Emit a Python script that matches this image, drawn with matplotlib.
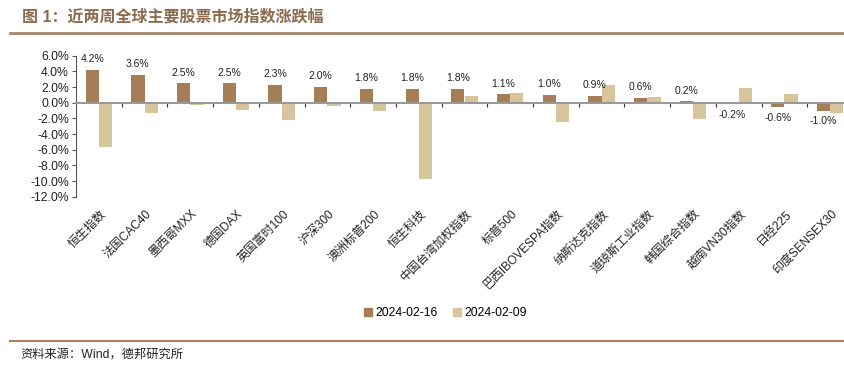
import matplotlib
matplotlib.use("Agg")
import matplotlib.pyplot as plt
import numpy as np
from matplotlib.lines import Line2D
from matplotlib.patches import Patch

plt.rcParams['font.family'] = ['Liberation Sans', 'Noto Sans CJK SC', 'DejaVu Sans']

categories = ["恒生指数", "法国CAC40", "墨西哥MXX", "德国DAX", "英国富时100", "沪深300",
              "澳洲标普200", "恒生科技", "中国台湾加权指数", "标普500", "巴西IBOVESPA指数",
              "纳斯达克指数", "道琼斯工业指数", "韩国综合指数", "越南VN30指数", "日经225",
              "印度SENSEX30"]
series_names = ["2024-02-16", "2024-02-09"]
week_0216 = [4.2, 3.6, 2.5, 2.5, 2.3, 2.0, 1.8, 1.8, 1.8, 1.1, 1.0, 0.9, 0.6, 0.2, -0.2, -0.6, -1.0]
week_0209 = [-5.7, -1.3, -0.3, -0.9, -2.2, -0.4, -1.0, -9.8, 0.9, 1.2, -2.5, 2.3, 0.7, -2.1, 1.9, 1.1, -1.3]
yticks = [6, 4, 2, 0, -2, -4, -6, -8, -10, -12]

c1 = "#A57E58"
c2 = "#D7C59B"
line_c = "#A68466"

W, H = 845, 373
fig = plt.figure(figsize=(W / 100, H / 100), dpi=100)
ax_l, ax_r = 76, 853
ax_t, ax_b = 55.7, 196.7
ax = fig.add_axes([ax_l / W, 1 - ax_b / H, (ax_r - ax_l) / W, (ax_b - ax_t) / H])

n = len(categories)
x = np.arange(n)
bw = 0.29
ax.bar(x - bw / 2, week_0216, width=bw, color=c1, zorder=2)
ax.bar(x + bw / 2, week_0209, width=bw, color=c2, zorder=2)

ax.set_xlim(-0.5, n - 0.5)
ax.set_ylim(-12, 6)
ax.set_yticks(yticks)
ax.set_yticklabels([f"{v:.1f}%" for v in yticks], fontsize=8.8, color="#222222")
ax.tick_params(axis='y', direction='out', length=3, width=0.8, color="#555555", pad=2)

for s in ['top', 'right']:
    ax.spines[s].set_visible(False)
ax.spines['left'].set_color("#555555")
ax.spines['left'].set_linewidth(0.8)
ax.spines['bottom'].set_position(('data', 0))
ax.spines['bottom'].set_color("#999999")
ax.spines['bottom'].set_linewidth(1.5)
ax.spines['bottom'].set_zorder(3)

ax.set_xticks(np.arange(n - 1) + 0.5)
ax.set_xticklabels([])
ax.tick_params(axis='x', direction='out', length=3, width=0.8, color="#333333")

for xi, v in zip(x, week_0216):
    if v >= 0:
        ax.annotate(f"{v:.1f}%", (xi - bw / 2, v), xytext=(0, 4), textcoords='offset points',
                    ha='center', va='bottom', fontsize=7.5, color="#222222")
    else:
        ax.annotate(f"{v:.1f}%", (xi - bw / 2, v), xytext=(0, -4), textcoords='offset points',
                    ha='center', va='top', fontsize=7.5, color="#222222")

trans = matplotlib.transforms.blended_transform_factory(ax.transData, ax.transAxes)
for xi, lab in zip(x, categories):
    ax.text(xi + 0.02, -0.08, lab, transform=trans, rotation=45, ha='right', va='top',
            rotation_mode='anchor', fontsize=8.6, color="#222222")

handles = [Patch(color=c1), Patch(color=c2)]
fig.legend(handles, series_names, loc='center', bbox_to_anchor=(445.5 / W, 1 - 313 / H),
           ncol=2, frameon=False, fontsize=8.8, handlelength=0.6, handleheight=0.6,
           handletextpad=0.3, columnspacing=1.3)

fig.text(22 / W, 1 - 17 / H, "图 1：近两周全球主要股票市场指数涨跌幅", fontsize=11.5,
         fontweight='bold', color="#8B6B4E", ha='left', va='center')
fig.add_artist(Line2D([10 / W, 1.0], [1 - 33 / H, 1 - 33 / H], color=line_c, lw=2))
fig.add_artist(Line2D([10 / W, 1.0], [1 - 341 / H, 1 - 341 / H], color=line_c, lw=1.5))
fig.text(20 / W, 1 - 355 / H, "资料来源：Wind，德邦研究所", fontsize=8.8, color="#222222",
         ha='left', va='center')

fig.savefig("out.png", dpi=100)
